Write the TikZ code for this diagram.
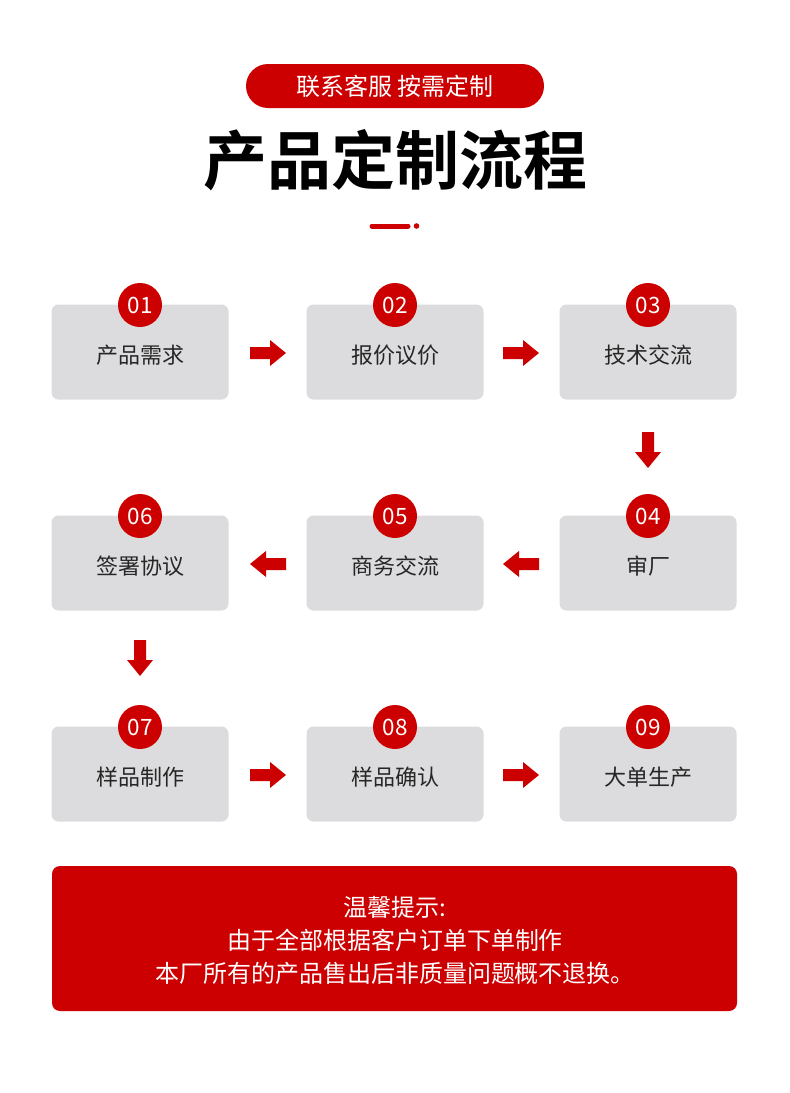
\documentclass[tikz,border=0pt]{standalone}
\usepackage{fontspec}
\setmainfont{Noto Sans CJK SC}
\newfontfamily\cjkb{Noto Sans CJK SC Bold}
\definecolor{rd}{HTML}{CC0000}
\definecolor{gr}{HTML}{DCDCDE}
\begin{document}
\begin{tikzpicture}[x=1pt,y=-1pt,
 box/.style={fill=gr,rounded corners=7pt,minimum width=177pt,minimum height=95pt,inner sep=0pt},
 lbl/.style={font=\fontsize{22}{24}\selectfont,text=black!85},
 num/.style={circle,fill=rd,minimum size=44pt,inner sep=0pt,text=white,font=\fontsize{22.5}{24}\selectfont},
 arr/.style={fill=rd}]
\useasboundingbox (0,0) rectangle (790,1093);
\fill[white] (0,0) rectangle (790,1093);
\node[fill=rd,rounded corners=22pt,minimum width=298pt,minimum height=44pt,text=white,font=\fontsize{24}{26}\selectfont] (pill) at (395,86) {联系客服 按需定制};
\node[font=\cjkb\fontsize{64}{70}\selectfont] (title) at (395,160) {产品定制流程};
\draw[rd,line width=5pt,line cap=round] (372,226) -- (408,226);
\fill[rd] (416.5,226) circle (2.8pt);
\foreach \i/\c/\r/\t in {1/140/352/产品需求,2/395/352/报价议价,3/648/352/技术交流,4/648/563/审厂,5/395/563/商务交流,6/140/563/签署协议,7/140/774/样品制作,8/395/774/样品确认,9/648/774/大单生产}{
  \node[box] (b\i) at (\c,\r) {};
  \node[lbl] (l\i) at (\c,\r+3) {\t};
  \node[num] (n\i) at (\c,\r-47) {0\i};
}
\foreach \x/\y in {250/353,503/353,250/775,503/775}{
  \fill[arr] (\x,\y-6) -- (\x+20,\y-6) -- (\x+20,\y-13) -- (\x+36,\y) -- (\x+20,\y+13) -- (\x+20,\y+6) -- (\x,\y+6) -- cycle;}
\foreach \x/\y in {286/564,539/564}{
  \fill[arr] (\x,\y-6) -- (\x-20,\y-6) -- (\x-20,\y-13) -- (\x-36,\y) -- (\x-20,\y+13) -- (\x-20,\y+6) -- (\x,\y+6) -- cycle;}
\foreach \x/\y in {648/432,140/640}{
  \fill[arr] (\x-6,\y) -- (\x-6,\y+20) -- (\x-13,\y+20) -- (\x,\y+36) -- (\x+13,\y+20) -- (\x+6,\y+20) -- (\x+6,\y) -- cycle;}
\node[fill=rd,rounded corners=8pt,minimum width=685pt,minimum height=145pt,inner sep=0pt] (note) at (394.5,938.5) {};
\node[text=white,font=\fontsize{24}{33}\selectfont,align=center] (notet) at (395,940) {温馨提示:\\由于全部根据客户订单下单制作\\本厂所有的产品售出后非质量问题概不退换。};
\end{tikzpicture}
\end{document}
